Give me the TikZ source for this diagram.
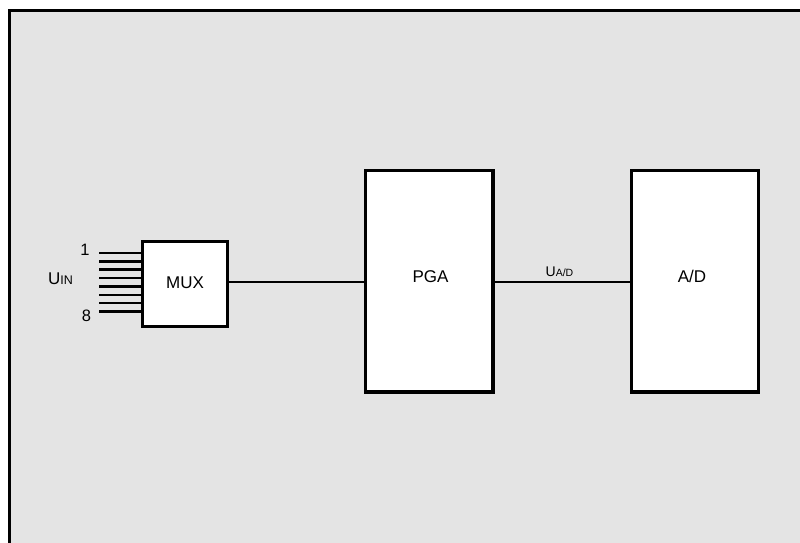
\documentclass[tikz,border=0pt]{standalone}
\usepackage{fontspec}
\setmainfont{Liberation Sans}
\definecolor{bg}{HTML}{E4E4E4}
\tikzset{
  blockbox/.style={draw=black, fill=white, line width=3.3pt, inner sep=0pt},
  wire/.style={draw=black, line width=2.6pt},
  inwire/.style={draw=black, line width=2.5pt},
  lbl/.style={font=\fontsize{17}{19}\selectfont, inner sep=0pt},
  numlbl/.style={font=\fontsize{16.5}{18}\selectfont, inner sep=0pt},
}
\newcommand{\bigUin}{{\fontsize{17}{19}\selectfont U}}
\newcommand{\bigUad}{{\fontsize{14}{16}\selectfont U}}
\newcommand{\smallsub}[2]{{\fontsize{#1}{12}\selectfont #2}}
\begin{document}
\begin{tikzpicture}[x=1pt,y=-1pt]
\useasboundingbox (0,0) rectangle (800,542);
\fill[white] (0,0) rectangle (800,542);
\draw[line width=3pt, fill=bg] (9.5,10.5) rectangle (820,560);
% blocks
\node[blockbox, minimum width=85pt, minimum height=85pt] (mux) at (185,284) {};
\node[lbl] at (185,283) {MUX};
\node[blockbox, minimum width=127.5pt, minimum height=221.5pt] (pga) at (429.25,281.25) {};
\node[lbl] at (430.5,276.5) {PGA};
\node[blockbox, minimum width=127pt, minimum height=221.5pt] (ad) at (695,281.25) {};
\node[lbl] at (692,276.5) {A/D};
% connectors
\coordinate (muxout) at (mux.east |- 0,282);
\coordinate (pgain) at (pga.west |- 0,282);
\coordinate (pgaout) at (pga.east |- 0,282);
\coordinate (adin) at (ad.west |- 0,282);
\draw[wire] (muxout) -- (pgain);
\draw[wire] (pgaout) -- (adin);
\node[inner sep=0pt, anchor=base west] (uad) at (545.5,276.7) {\bigUad\smallsub{10.5}{A/D}};
% inputs
\foreach \i in {0,...,7} {
  \coordinate (in\i) at (99,{253+\i*8.37});
  \draw[inwire] (in\i) -- (mux.west |- in\i);
}
\node[numlbl] (n1) at (85,249.5) {1};
\node[numlbl] (n8) at (86.5,315.5) {8};
\node[inner sep=0pt, anchor=base west] (uin) at (48,284) {\bigUin\smallsub{12.5}{IN}};
\end{tikzpicture}
\end{document}
